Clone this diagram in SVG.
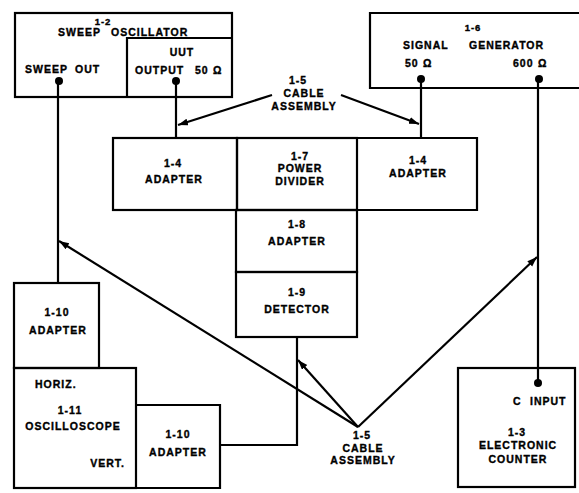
<svg xmlns="http://www.w3.org/2000/svg" width="579" height="493" viewBox="0 0 579 493">
<style>
.box{fill:none;stroke:#000;stroke-width:2.2}
.ln{fill:none;stroke:#000;stroke-width:2.2}
.t{font-family:"Liberation Sans",Arial,sans-serif;font-weight:bold;font-size:10.5px;letter-spacing:1px;fill:#000;stroke:#000;stroke-width:0.35}
.c{text-anchor:middle}
.e{text-anchor:end}
.dot{fill:#000}
</style>
<defs>
<marker id="ah" markerUnits="userSpaceOnUse" markerWidth="12" markerHeight="10" refX="10" refY="3.5" orient="auto">
<path d="M0,0 L10,3.5 L0,7 Z" fill="#000"/>
</marker>
</defs>
<rect width="579" height="493" fill="#fff"/>

<g id="sweep-oscillator">
<rect class="box" x="15" y="13" width="217" height="84"/>
<polyline class="box" points="127,97 127,38 232,38"/>
<text class="t c" x="103" y="25" style="font-size:9.5px">1-2</text>
<text class="t" x="58" y="36">SWEEP</text>
<text class="t" x="111" y="36">OSCILLATOR</text>
<text class="t" y="73"><tspan x="25">SWEEP</tspan><tspan x="75">OUT</tspan></text>
<text class="t c" x="182" y="56">UUT</text>
<text class="t" y="74"><tspan x="135">OUTPUT</tspan><tspan x="195">50</tspan><tspan x="213">Ω</tspan></text>
<circle class="dot" cx="59" cy="81" r="4"/>
<circle class="dot" cx="176" cy="81" r="4"/>
</g>

<g id="signal-generator">
<polyline class="box" points="579,13 370,13 370,88 579,88"/>
<text class="t c" x="473" y="31" style="font-size:9.5px">1-6</text>
<text class="t" x="403" y="49">SIGNAL</text>
<text class="t" x="469" y="49">GENERATOR</text>
<text class="t" y="67"><tspan x="405">50</tspan><tspan x="423">Ω</tspan></text>
<text class="t" y="67"><tspan x="513">600</tspan><tspan x="538">Ω</tspan></text>
<circle class="dot" cx="421" cy="79" r="4"/>
<circle class="dot" cx="539" cy="79" r="4"/>
</g>

<g id="adapter-1-4-left">
<rect class="box" x="113" y="138" width="124" height="72"/>
<text class="t c" x="173" y="167">1-4</text>
<text class="t c" x="174" y="183">ADAPTER</text>
</g>

<g id="power-divider">
<rect class="box" x="237" y="138" width="120" height="72"/>
<text class="t c" x="300" y="160">1-7</text>
<text class="t c" x="300" y="172">POWER</text>
<text class="t c" x="300" y="185">DIVIDER</text>
</g>

<g id="adapter-1-4-right">
<polyline class="box" points="357,138 477,138 477,210 357,210"/>
<text class="t c" x="418" y="164">1-4</text>
<text class="t c" x="418" y="177">ADAPTER</text>
</g>

<g id="adapter-1-8">
<rect class="box" x="236" y="210" width="121" height="62"/>
<text class="t c" x="297" y="228">1-8</text>
<text class="t c" x="297" y="245">ADAPTER</text>
</g>

<g id="detector">
<rect class="box" x="236" y="272" width="121" height="65"/>
<text class="t c" x="297" y="296">1-9</text>
<text class="t c" x="297" y="313">DETECTOR</text>
</g>

<g id="adapter-1-10-top">
<rect class="box" x="14" y="283" width="85" height="85"/>
<text class="t c" x="57" y="316">1-10</text>
<text class="t c" x="58" y="334">ADAPTER</text>
</g>

<g id="oscilloscope">
<rect class="box" x="14" y="368" width="122" height="120"/>
<text class="t" x="35" y="388">HORIZ.</text>
<text class="t c" x="70" y="414">1-11</text>
<text class="t c" x="73" y="430">OSCILLOSCOPE</text>
<text class="t e" x="125" y="467">VERT.</text>
</g>

<g id="adapter-1-10-bottom">
<polyline class="box" points="136,405 220,405 220,488 136,488"/>
<text class="t c" x="178" y="438">1-10</text>
<text class="t c" x="178" y="456">ADAPTER</text>
</g>

<g id="electronic-counter">
<rect class="box" x="458" y="368" width="117" height="119"/>
<circle class="dot" cx="538" cy="383" r="4"/>
<text class="t" y="405"><tspan x="513">C</tspan><tspan x="530">INPUT</tspan></text>
<text class="t c" x="517" y="436">1-3</text>
<text class="t c" x="518" y="449">ELECTRONIC</text>
<text class="t c" x="518" y="463">COUNTER</text>
</g>

<g id="cable-label-top">
<text class="t c" x="298" y="84">1-5</text>
<text class="t c" x="304" y="97">CABLE</text>
<text class="t c" x="304" y="110">ASSEMBLY</text>
</g>

<g id="cable-label-bottom">
<text class="t c" x="362" y="439">1-5</text>
<text class="t c" x="363" y="452">CABLE</text>
<text class="t c" x="363" y="464">ASSEMBLY</text>
</g>

<g id="connectors">
<line class="ln" x1="58" y1="81" x2="58" y2="283"/>
<line class="ln" x1="176" y1="81" x2="176" y2="138"/>
<line class="ln" x1="421" y1="79" x2="421" y2="138"/>
<line class="ln" x1="538" y1="79" x2="538" y2="383"/>
<polyline class="ln" points="297,337 297,445 220,445"/>
<line class="ln" x1="272" y1="95" x2="178" y2="125" marker-end="url(#ah)"/>
<line class="ln" x1="341" y1="95" x2="419" y2="124" marker-end="url(#ah)"/>
<line class="ln" x1="358" y1="427" x2="59" y2="241" marker-end="url(#ah)"/>
<line class="ln" x1="358" y1="427" x2="298" y2="360" marker-end="url(#ah)"/>
<line class="ln" x1="358" y1="427" x2="537" y2="257" marker-end="url(#ah)"/>
</g>
</svg>
